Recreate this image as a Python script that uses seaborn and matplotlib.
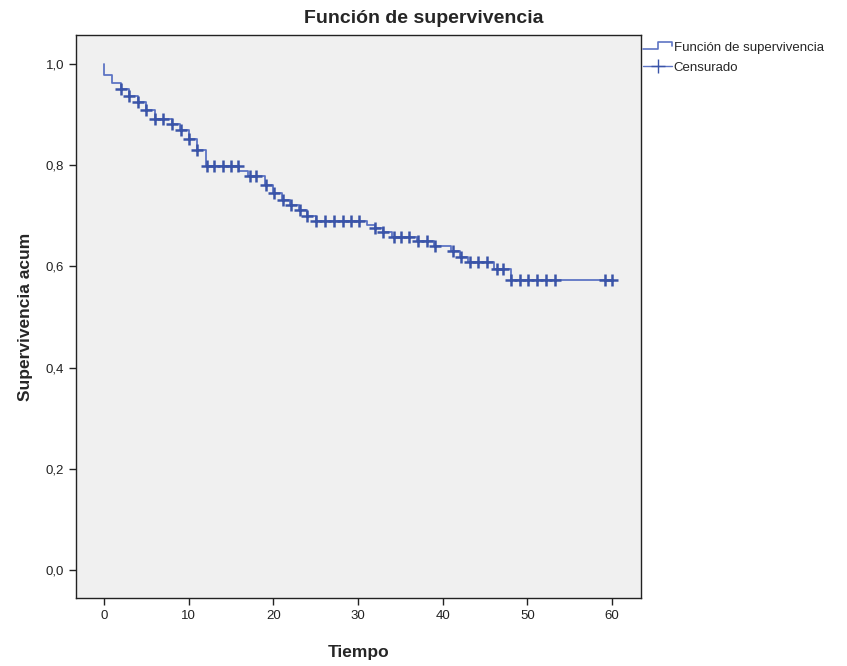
import numpy as np
import pandas as pd
import matplotlib
matplotlib.use("Agg")
import matplotlib.pyplot as plt
import seaborn as sns
from matplotlib.lines import Line2D
from matplotlib.legend_handler import HandlerBase

# ---- data ----
step_times = [0, 0, 1, 2, 3, 4, 5, 6, 8, 9, 10, 11, 12, 16, 17, 19, 20, 21, 22, 23, 24, 25,
              31, 32, 33, 34, 37, 39, 41, 42, 43, 46, 48, 60]
step_surv = [1.0, 0.978, 0.963, 0.951, 0.937, 0.924, 0.908, 0.892, 0.881, 0.870, 0.851, 0.829,
             0.799, 0.788, 0.779, 0.761, 0.745, 0.732, 0.721, 0.711, 0.700, 0.690,
             0.682, 0.676, 0.668, 0.659, 0.650, 0.640, 0.631, 0.619, 0.608, 0.594, 0.574, 0.574]
censor_times = [2, 3, 4, 5, 6, 7, 8, 9.1, 10, 11, 12.2, 13, 14, 15, 15.8, 17.2, 18, 19.1, 20.1,
                21.1, 22.1, 23.1, 24, 25, 26.1, 27.2, 28.2, 29.2, 30.1, 32, 33, 34.2, 35.1, 36,
                37.1, 38.1, 39.1, 41.2, 42.1, 43.2, 44.2, 45.2, 46.4, 47.1, 48.1, 49.1, 50.1,
                51.1, 52.2, 53.2, 59.1, 60]
x_ticks = [0, 10, 20, 30, 40, 50, 60]
y_ticks = [0.0, 0.2, 0.4, 0.6, 0.8, 1.0]
y_tick_labels = ["0,0", "0,2", "0,4", "0,6", "0,8", "1,0"]

line_df = pd.DataFrame({"Tiempo": step_times, "S": step_surv})
st = np.array(step_times, dtype=float)
ss = np.array(step_surv, dtype=float)
idx = np.searchsorted(st, np.array(censor_times), side="right") - 1
cens_df = pd.DataFrame({"Tiempo": censor_times, "S": ss[idx]})

sns.set_theme(style="white")
plt.rcParams["font.family"] = ["Liberation Sans", "DejaVu Sans"]

fig = plt.figure(figsize=(8.47, 6.66), dpi=100)
ax = fig.add_axes([0.0897, 0.1021, 0.6671, 0.8453])
ax.set_facecolor("#F0F0F0")

line_color = "#5D74C4"
mark_color = "#3A54A8"
sns.lineplot(data=line_df, x="Tiempo", y="S", drawstyle="steps-post", color=line_color,
             linewidth=1.3, ax=ax, estimator=None, sort=False)
sns.scatterplot(data=cens_df, x="Tiempo", y="S", marker="+", s=65, color=mark_color,
                linewidth=1.8, ax=ax, zorder=3)

ax.set_xlim(-3.3, 63.4)
ax.set_ylim(-0.055, 1.057)
ax.set_xticks(x_ticks)
ax.set_xticklabels([str(v) for v in x_ticks])
ax.set_yticks(y_ticks)
ax.set_yticklabels(y_tick_labels)
ax.tick_params(axis="both", direction="out", length=5, width=1, color="#222222",
               labelsize=9.5, labelcolor="#222222", bottom=True, left=True)
for sp in ax.spines.values():
    sp.set_color("#222222")
    sp.set_linewidth(1.0)

ax.set_xlabel("Tiempo", fontsize=12.5, fontweight="bold", labelpad=17)
ax.set_ylabel("Supervivencia acum", fontsize=12.5, fontweight="bold", labelpad=9)
fig.text(0.5, 0.972, "Función de supervivencia", ha="center", va="center",
         fontsize=14, fontweight="bold")


class StepHandler(HandlerBase):
    def create_artists(self, legend, orig_handle, xdescent, ydescent, width, height,
                       fontsize, trans):
        x0 = -xdescent
        y0 = -ydescent
        xs = [x0, x0 + 0.5 * width, x0 + 0.5 * width, x0 + width, x0 + width]
        ys = [y0 + 0.2 * height, y0 + 0.2 * height, y0 + 0.95 * height,
              y0 + 0.95 * height, y0 + 0.6 * height]
        ln = Line2D(xs, ys, color=line_color, linewidth=1.2, transform=trans)
        return [ln]


step_handle = Line2D([], [], color=line_color)
cens_handle = Line2D([0], [0], color=line_color, marker="+", markersize=10,
                     markeredgecolor=mark_color, linewidth=1.0)
leg = ax.legend([step_handle, cens_handle], ["Función de supervivencia", "Censurado"],
                handler_map={step_handle: StepHandler()},
                loc="upper left", bbox_to_anchor=(1.002, 0.99), frameon=False,
                fontsize=9.5, handlelength=2.2, handletextpad=0.1, labelspacing=0.55,
                borderaxespad=0.0, borderpad=0.1)

fig.savefig("out.png", dpi=100)
